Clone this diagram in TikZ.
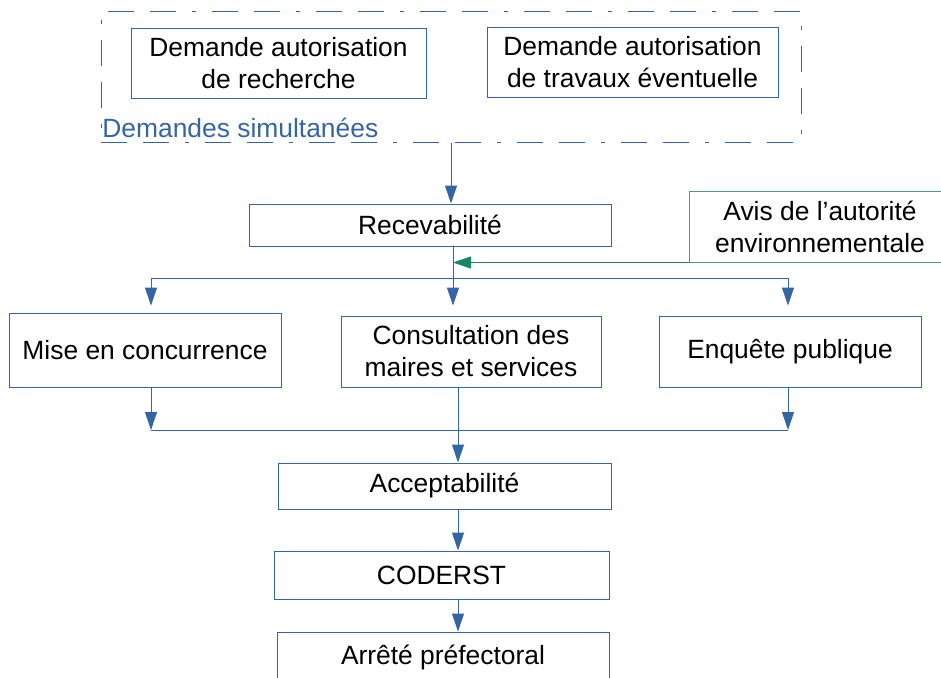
\documentclass[tikz,border=0pt]{standalone}
\usepackage{fontspec}
\setmainfont{Liberation Sans}
\usetikzlibrary{arrows.meta,positioning,calc}
\definecolor{lineblue}{RGB}{52,101,164}
\definecolor{avisgreen}{RGB}{24,134,100}

\begin{document}
\begin{tikzpicture}[
    x=0.5pt, y=-0.5pt,
    font=\fontsize{13.2}{16}\selectfont,
    box/.style={draw=lineblue, line width=0.5pt, rectangle, align=center, inner sep=0pt},
    greenbox/.style={draw=avisgreen!80, line width=0.5pt, rectangle, align=center, inner sep=0pt},
    group/.style={draw=lineblue, line width=0.5pt, dash pattern=on 13pt off 8pt on 13pt off 8pt on 2pt off 8pt},
    arrow/.style={-{Triangle[length=9pt,width=6pt]}, draw=lineblue, fill=lineblue, line width=0.5pt},
    line/.style={draw=lineblue, line width=0.5pt},
    greenarrow/.style={-{Triangle[length=9pt,width=6pt]}, draw=avisgreen, fill=avisgreen, line width=0.5pt}
]
\clip (0,0) rectangle (941,677);

% Simultaneous requests
\node[group, minimum width=350pt, minimum height=65.5pt] (grp) at (451,76.5) {};
\node[box, minimum width=147.5pt, minimum height=35pt] (dem1) at (278.5,63) {Demande autorisation\\de recherche};
\node[box, minimum width=145.5pt, minimum height=35pt] (dem2) at (632.5,62) {Demande autorisation\\de travaux éventuelle};
\node[anchor=west, text=lineblue, inner sep=0pt] (grplabel) at (102,128) {Demandes simultanées};

% Admissibility
\node[box, minimum width=181pt, minimum height=21pt] (rec) at (430,225) {Recevabilité};
\node[greenbox, minimum width=131pt, minimum height=35.5pt] (avis) at (820,226.5) {Avis de l’autorité\\environnementale};

% Parallel steps
\node[box, minimum width=136pt, minimum height=37pt] (mise) at (145,350) {Mise en concurrence};
\node[box, minimum width=130pt, minimum height=35.5pt] (cons) at (471,351.5) {Consultation des\\maires et services};
\node[box, minimum width=131pt, minimum height=35.5pt] (enq) at (790,351.5) {Enquête publique};

% Final steps
\node[box, minimum width=166.5pt, minimum height=23pt] (acc) at (444.5,486) {Acceptabilité};
\node[box, minimum width=167.5pt, minimum height=24pt] (cod) at (441.5,575) {CODERST};
\node[box, minimum width=166pt, minimum height=25pt] (arr) at (443,657) {Arrêté préfectoral};

% Split and join points
\coordinate (split) at (453,278);
\coordinate (splitL) at (151,278);
\coordinate (splitR) at (788,278);
\coordinate (join) at (458,430);
\coordinate (joinL) at (151,430);
\coordinate (joinR) at (788,430);

% Connectors
\draw[arrow] (grp.south) -- (grp.south |- rec.north);
\draw[arrow, shorten >=5pt] (rec.south -| split) -- (split |- cons.north);
\draw[line] (splitL) -- (splitR);
\draw[arrow, shorten >=3.5pt] (splitL) -- (splitL |- mise.north);
\draw[arrow, shorten >=5pt] (splitR) -- (splitR |- enq.north);
\draw[greenarrow] (avis.south west) -- (avis.south west -| split);

\draw[arrow] (mise.south -| joinL) -- (joinL);
\draw[arrow] (enq.south -| joinR) -- (joinR);
\draw[line] (joinL) -- (joinR);
\draw[arrow] (cons.south -| join) -- (join |- acc.north);
\draw[arrow] (acc.south -| join) -- (join |- cod.north);
\draw[arrow] (cod.south -| join) -- (join |- arr.north);

\end{tikzpicture}
\end{document}
